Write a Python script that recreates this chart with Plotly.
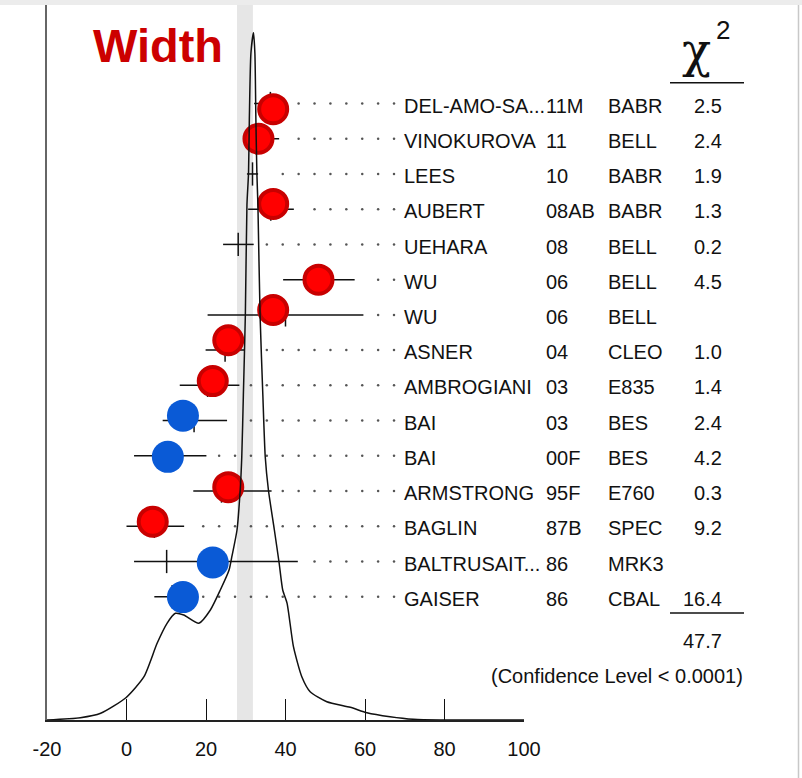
import plotly.graph_objects as go

# ---------------- data ----------------
authors = ["DEL-AMO-SA...", "VINOKUROVA", "LEES", "AUBERT", "UEHARA", "WU", "WU",
           "ASNER", "AMBROGIANI", "BAI", "BAI", "ARMSTRONG", "BAGLIN",
           "BALTRUSAIT...", "GAISER"]
years = ["11M", "11", "10", "08AB", "08", "06", "06", "04", "03", "03", "00F",
         "95F", "87B", "86", "86"]
experiments = ["BABR", "BELL", "BABR", "BABR", "BELL", "BELL", "BELL", "CLEO",
               "E835", "BES", "BES", "E760", "SPEC", "MRK3", "CBAL"]
chi2 = ["2.5", "2.4", "1.9", "1.3", "0.2", "4.5", "", "1.0", "1.4", "2.4", "4.2",
        "0.3", "9.2", "", "16.4"]
chi2_total = "47.7"
conf_level = "(Confidence Level < 0.0001)"

values = [36.2, 35.1, 31.7, 36.3, 28.1, 48.0, 40.0, 24.8, 20.4, 17.0, 11.0,
          23.9, 7.0, 10.1, 11.5]
err_lo = [4.1, 3.5, 1.4, 5.7, 3.8, 8.6, 19.6, 4.9, 7.0, 7.9, 9.1, 7.1, 7.0, 8.2, 4.5]
err_hi = [4.1, 3.3, 1.4, 5.8, 3.9, 9.4, 19.6, 4.9, 8.0, 8.3, 9.1, 12.6, 7.5, 33.0, 4.5]

# highlighted (coloured) markers placed on the figure: x, row, colour
mark_x = [36.9, 33.2, 36.9, 48.3, 36.9, 25.6, 21.7, 14.2, 10.4, 25.6, 6.6, 21.7, 14.2]
mark_row = [0.16, 1.0, 2.85, 5.0, 5.86, 6.72, 7.88, 8.86, 10.03, 10.89, 11.87, 13.03, 14.01]
mark_kind = ["red", "red", "red", "red", "red", "red", "red", "blue", "blue", "red",
             "red", "blue", "blue"]

# weighted average band
avg_value = 29.8
avg_error = 2.0

# ideogram curve (x in MeV, height in arbitrary units)
ideo_x = [-20.0, -11.6, -6.5, -0.15, 4.4, 7.7, 10.2, 12.3, 14.4, 18.2, 21.1, 23.6,
          25.8, 26.5, 27.8, 28.6, 29.0, 29.4, 29.9, 30.3, 30.7, 30.9, 31.3, 31.95,
          32.3, 32.55, 32.8, 33.06, 33.6, 34.3, 34.9, 35.7, 37.2, 38.4, 39.3, 40.4,
          42.0, 44.1, 46.2, 50.4, 56.3, 60.5, 66.3, 72.2, 78.9, 100.0]
ideo_y = [0.0, 2.3, 6.7, 22.3, 43.3, 76.7, 96.7, 106.7, 105.0, 96.7, 110.0, 130.0,
          150.0, 163.3, 190.0, 230.0, 263.3, 325.0, 405.0, 515.0, 547.0, 600.0, 666.7, 687.3,
          666.7, 600.0, 546.7, 515.0, 405.0, 325.0, 263.3, 230.0, 190.0, 157.0, 130.0, 116.7,
          73.3, 43.3, 28.3, 18.3, 12.7, 7.3, 3.3, 0.7, 0.0, 0.0]

tick_vals = [-20, 0, 20, 40, 60, 80, 100]
tick_text = ["-20", "0", "20", "40", "60", "80", "100"]

# ---------------- layout helpers ----------------
W, H = 802, 778
ML, MR, MT, MB = 47, 278, 5, 58
PW = W - ML - MR
PH = H - MT - MB
ROW0, ROWSTEP = 103.5, 35.23


def px(xpix):
    return (xpix - ML) / PW


def row_of(ypix):
    return (ypix - ROW0) / ROWSTEP


FONT = "Liberation Sans, Arial, sans-serif"
FS = 20
n = len(authors)
rows = list(range(n))

fig = go.Figure()

# ideogram
fig.add_trace(go.Scatter(x=ideo_x, y=ideo_y, mode="lines", yaxis="y2",
                         line=dict(color="#111111", width=1.5, shape="spline", smoothing=0.6),
                         hoverinfo="skip", showlegend=False))

# error bars (horizontal) and central ticks
ex, ey, tx, ty = [], [], [], []
for v, lo, hi, r in zip(values, err_lo, err_hi, rows):
    ex += [v - lo, v + hi, None]
    ey += [r, r, None]
    tx += [v, v, None]
    ty += [r - 0.33, r + 0.33, None]
fig.add_trace(go.Scatter(x=ex, y=ey, mode="lines", line=dict(color="#111111", width=1.5),
                         hoverinfo="skip", showlegend=False))
fig.add_trace(go.Scatter(x=tx, y=ty, mode="lines", line=dict(color="#111111", width=1.5),
                         hoverinfo="skip", showlegend=False))

# dotted leaders
dx, dy = [], []
grid = [3.3 + 4 * k for k in range(17)]
for v, hi, r in zip(values, err_hi, rows):
    for g in grid:
        if g >= v + hi + 2.5:
            dx.append(g)
            dy.append(r)
fig.add_trace(go.Scatter(x=dx, y=dy, mode="markers",
                         marker=dict(color="#555555", size=2.5),
                         hoverinfo="skip", showlegend=False))

# coloured markers
rx = [x for x, k in zip(mark_x, mark_kind) if k == "red"]
ry = [y for y, k in zip(mark_row, mark_kind) if k == "red"]
bx = [x for x, k in zip(mark_x, mark_kind) if k == "blue"]
by = [y for y, k in zip(mark_row, mark_kind) if k == "blue"]
fig.add_trace(go.Scatter(x=rx, y=ry, mode="markers", cliponaxis=False,
                         marker=dict(color="#ff0000", size=28,
                                     line=dict(color="#c80000", width=4)),
                         hoverinfo="skip", showlegend=False))
fig.add_trace(go.Scatter(x=bx, y=by, mode="markers", cliponaxis=False,
                         marker=dict(color="#0a5ad6", size=32, line=dict(width=0)),
                         hoverinfo="skip", showlegend=False))

shapes = [
    dict(type="rect", xref="x", yref="paper", x0=avg_value - avg_error,
         x1=avg_value + avg_error, y0=0, y1=1, fillcolor="#e6e6e6",
         line=dict(width=0), layer="below"),
    # header underline and sum underline
    dict(type="line", xref="paper", yref="y", x0=px(670), x1=px(744),
         y0=row_of(82.7), y1=row_of(82.7), line=dict(color="#111111", width=1.5)),
    dict(type="line", xref="paper", yref="y", x0=px(670), x1=px(744),
         y0=row_of(613), y1=row_of(613), line=dict(color="#111111", width=1.5)),
    # page chrome
    dict(type="rect", xref="paper", yref="paper", x0=px(0), x1=px(W),
         y0=1, y1=1 + 6 / PH, fillcolor="#ececec", line=dict(width=0)),
    dict(type="line", xref="paper", yref="paper", x0=px(798.5), x1=px(798.5),
         y0=-MB / PH, y1=1, line=dict(color="#c8c8c8", width=1.5)),
]

annotations = []
for r in rows:
    yy = r + 0.06
    annotations.append(dict(xref="paper", yref="y", x=px(402), y=yy, text=authors[r],
                            xanchor="left", yanchor="middle", showarrow=False,
                            font=dict(family=FONT, size=FS, color="#111111")))
    annotations.append(dict(xref="paper", yref="y", x=px(544), y=yy, text=years[r],
                            xanchor="left", yanchor="middle", showarrow=False,
                            font=dict(family=FONT, size=FS, color="#111111")))
    annotations.append(dict(xref="paper", yref="y", x=px(606), y=yy, text=experiments[r],
                            xanchor="left", yanchor="middle", showarrow=False,
                            font=dict(family=FONT, size=FS, color="#111111")))
    if chi2[r]:
        annotations.append(dict(xref="paper", yref="y", x=px(724), y=yy, text=chi2[r],
                                xanchor="right", yanchor="middle", showarrow=False,
                                font=dict(family=FONT, size=FS, color="#111111")))

annotations += [
    dict(xref="paper", yref="y", x=px(724), y=row_of(641), text=chi2_total,
         xanchor="right", yanchor="middle", showarrow=False,
         font=dict(family=FONT, size=FS, color="#111111")),
    dict(xref="paper", yref="y", x=px(745), y=row_of(676), text=conf_level,
         xanchor="right", yanchor="middle", showarrow=False,
         font=dict(family=FONT, size=FS, color="#111111")),
    dict(xref="paper", yref="y", x=px(713), y=row_of(50), text="χ",
         xanchor="right", yanchor="middle", showarrow=False,
         font=dict(family="DejaVu Serif, serif", size=48, color="#111111")),
    dict(xref="paper", yref="y", x=px(714), y=row_of(30), text="2",
         xanchor="left", yanchor="middle", showarrow=False,
         font=dict(family=FONT, size=26, color="#111111")),
    dict(xref="paper", yref="y", x=px(91), y=row_of(45), text="<b>Width</b>",
         xanchor="left", yanchor="middle", showarrow=False,
         font=dict(family=FONT, size=47, color="#cc0000")),
]

fig.update_layout(
    width=W, height=H,
    margin=dict(l=ML, r=MR, t=MT, b=MB, pad=0),
    paper_bgcolor="white", plot_bgcolor="white",
    showlegend=False,
    xaxis=dict(range=[-20, 100], showgrid=False, zeroline=False,
               showline=True, linecolor="#222222", linewidth=2,
               ticks="inside", ticklen=21, tickwidth=1.3, tickcolor="#111111",
               tickvals=tick_vals, ticktext=tick_text, ticklabelstandoff=10,
               tickfont=dict(family=FONT, size=FS, color="#111111")),
    yaxis=dict(range=[row_of(MT + PH), row_of(MT)], showgrid=False, zeroline=False,
               showline=True, linecolor="#666666", linewidth=2,
               showticklabels=False, ticks=""),
    yaxis2=dict(range=[0, PH], overlaying="y", visible=False),
    shapes=shapes,
    annotations=annotations,
)

fig.write_html("out.html")
